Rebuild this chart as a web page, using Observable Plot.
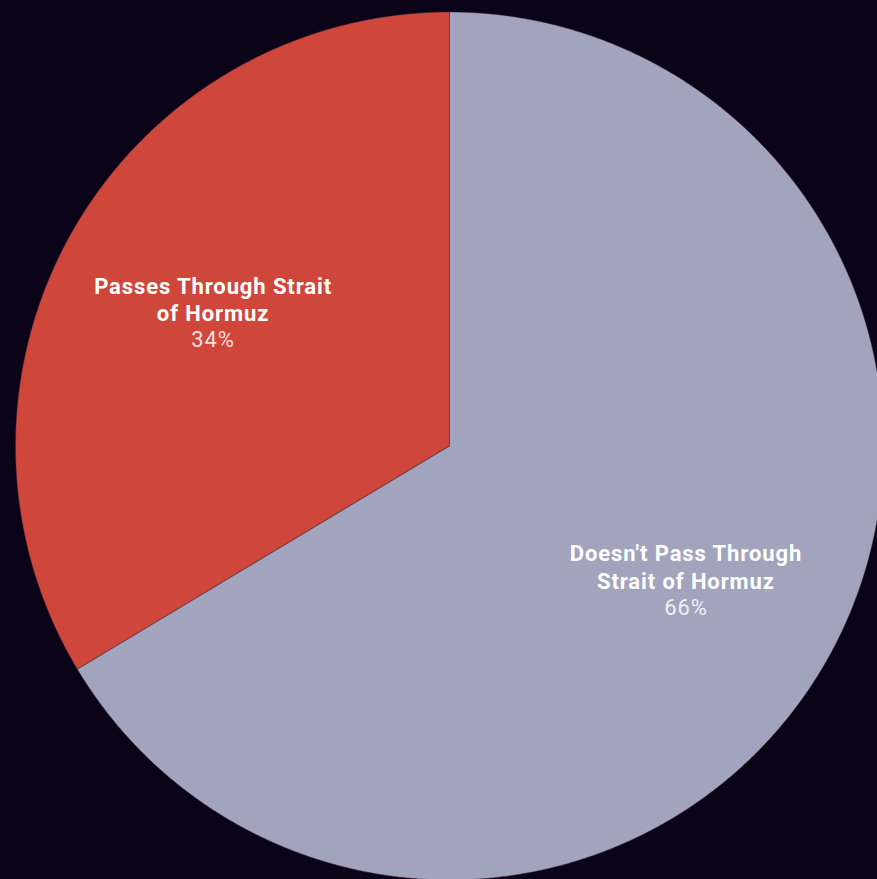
<!DOCTYPE html>
<html>
<head>
<meta charset="utf-8">
<script src="https://cdn.jsdelivr.net/npm/d3@7"></script>
<script src="https://cdn.jsdelivr.net/npm/@observablehq/plot@0.6"></script>
<style>
  html, body { margin: 0; padding: 0; background: #0b0419; }
  #chart svg { display: block; }
  #chart text { letter-spacing: 0.9px; }
</style>
</head>
<body>
<div id="chart"></div>
<script>
const categories = ["Passes Through Strait\nof Hormuz", "Doesn't Pass Through\nStrait of Hormuz"];
const shares = [33.6, 66.4];
const pctLabels = ["34%", "66%"];
const colors = ["#cf473b", "#a1a4bc"];

// Build slices (counterclockwise from top, like the reference)
const total = d3.sum(shares);
let start = 0;
const slices = shares.map((v, i) => {
  const a0 = start, a1 = start + (v / total) * 2 * Math.PI;
  start = a1;
  return {i, name: categories[i], pct: pctLabels[i], a0, a1, mid: (a0 + a1) / 2};
});
const pt = (a, r) => ({x: -Math.sin(a) * r, y: Math.cos(a) * r});
const poly = [];
for (const s of slices) {
  poly.push({k: s.i, ...pt(0, 0)});
  const n = Math.max(2, Math.ceil((s.a1 - s.a0) / (Math.PI / 720)));
  for (let j = 0; j <= n; j++) poly.push({k: s.i, ...pt(s.a0 + (s.a1 - s.a0) * j / n, 1)});
  poly.push({k: s.i, ...pt(0, 0)});
}
const labels = slices.map(s => ({...pt(s.mid, 0.626), name: s.name, pct: s.pct}));

const cx = 449, cy = 445.5, R = 434;
const chart = Plot.plot({
  width: 877,
  height: 879,
  margin: 0,
  style: {background: "#0b0419", fontFamily: "Roboto, sans-serif", overflow: "hidden"},
  x: {domain: [-1, 1], range: [cx - R, cx + R], axis: null},
  y: {domain: [-1, 1], range: [cy + R, cy - R], axis: null},
  color: {domain: [0, 1], range: colors, type: "ordinal"},
  marks: [
    Plot.line(poly, {x: "x", y: "y", z: "k", fill: "k", stroke: "#3a2030", strokeWidth: 0.8, strokeOpacity: 0.6, curve: "linear"}),
    Plot.text(labels, {x: "x", y: "y", text: "name", dy: -13.5, fill: "white", fontSize: 22, fontWeight: "bold", lineHeight: 1.25}),
    Plot.text(labels, {x: "x", y: "y", text: "pct", dy: 28, fill: "white", fillOpacity: 0.85, fontSize: 22, fontWeight: "normal"})
  ]
});
document.getElementById("chart").appendChild(chart);
</script>
</body>
</html>
